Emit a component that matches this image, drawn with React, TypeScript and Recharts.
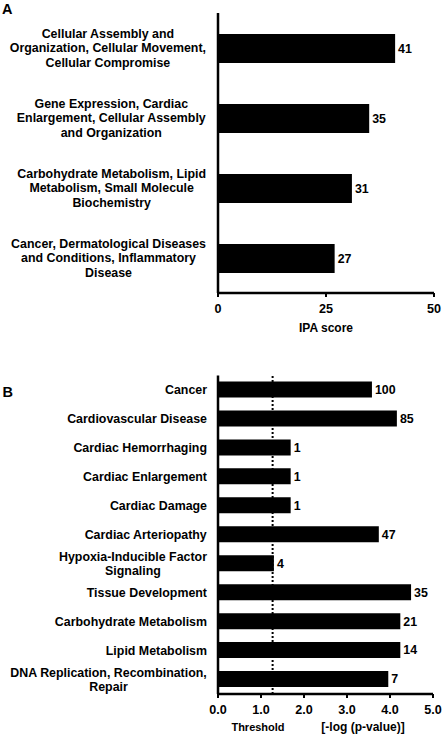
import React from "react";
import {
  BarChart,
  Bar,
  XAxis,
  YAxis,
  LabelList,
  ReferenceLine,
} from "recharts";

// ---------- Data ----------
const panelACategories = [
  "Cellular Assembly and\nOrganization, Cellular Movement,\nCellular Compromise",
  "Gene Expression, Cardiac\nEnlargement, Cellular Assembly\nand Organization",
  "Carbohydrate Metabolism, Lipid\nMetabolism, Small Molecule\nBiochemistry",
  "Cancer, Dermatological Diseases\nand Conditions, Inflammatory\nDisease",
];
const panelAScores = [41, 35, 31, 27];
const panelATicks = [0, 25, 50];

const panelBCategories = [
  "Cancer",
  "Cardiovascular Disease",
  "Cardiac Hemorrhaging",
  "Cardiac Enlargement",
  "Cardiac Damage",
  "Cardiac Arteriopathy",
  "Hypoxia-Inducible Factor\nSignaling",
  "Tissue Development",
  "Carbohydrate Metabolism",
  "Lipid Metabolism",
  "DNA Replication, Recombination,\nRepair",
];
const panelBLogP = [3.58, 4.16, 1.69, 1.69, 1.69, 3.74, 1.3, 4.49, 4.24, 4.24, 3.96];
const panelBCounts = [100, 85, 1, 1, 1, 47, 4, 35, 21, 14, 7];
const panelBTicks = [0, 1, 2, 3, 4, 5];
const thresholdValue = 1.27;

const panelAData = panelACategories.map((name, i) => ({
  name,
  score: panelAScores[i],
}));
const panelBData = panelBCategories.map((name, i) => ({
  name,
  logp: panelBLogP[i],
  count: panelBCounts[i],
}));

// ---------- Styles ----------
const FONT = "'Liberation Sans', Arial, Helvetica, sans-serif";
const LABEL_SIZE = 12.4;
const LINE_H = 14.2;

let ctx: CanvasRenderingContext2D | null = null;
function measure(text: string): number {
  try {
    if (!ctx) {
      const c = document.createElement("canvas");
      ctx = c.getContext("2d");
    }
    if (ctx) {
      ctx.font = `bold ${LABEL_SIZE}px 'Liberation Sans'`;
      return ctx.measureText(text).width;
    }
  } catch (e) {}
  return text.length * 6.9;
}

const MultiLineTick = (props: any) => {
  const { x, y, payload } = props;
  const lines = String(payload.value).split("\n");
  const maxW = Math.max(...lines.map(measure));
  const cx = x - maxW / 2;
  return (
    <g>
      {lines.map((l, i) => (
        <text
          key={i}
          x={cx}
          y={y + (i - (lines.length - 1) / 2) * LINE_H + 4.4}
          textAnchor="middle"
          fill="#000"
          fontSize={LABEL_SIZE}
          fontWeight="bold"
          fontFamily={FONT}
        >
          {l}
        </text>
      ))}
    </g>
  );
};

const valueLabel = (p: any) => (
  <text
    x={p.x + p.width + 3}
    y={p.y + p.height / 2 + 4.4}
    textAnchor="start"
    fill="#000"
    fontSize={LABEL_SIZE}
    fontWeight="bold"
    fontFamily={FONT}
  >
    {p.value}
  </text>
);

const xTickStyle = {
  fill: "#000",
  fontSize: 12.6,
  fontWeight: "bold",
  fontFamily: FONT,
};

const IpaLabel = (p: any) => {
  const vb = p.viewBox;
  return (
    <text
      x={vb.x + vb.width / 2}
      y={vb.y + 39}
      textAnchor="middle"
      fill="#000"
      fontSize={12}
      fontWeight="bold"
      fontFamily={FONT}
    >
      IPA score
    </text>
  );
};

const BLabel = (p: any) => {
  const vb = p.viewBox;
  return (
    <g>
      <text
        x={vb.x + 40}
        y={vb.y + 36.5}
        textAnchor="middle"
        fill="#000"
        fontSize={11}
        fontWeight="bold"
        fontFamily={FONT}
      >
        Threshold
      </text>
      <text
        x={vb.x + 145}
        y={vb.y + 36.5}
        textAnchor="middle"
        fill="#000"
        fontSize={12}
        fontWeight="bold"
        fontFamily={FONT}
      >
        [-log (p-value)]
      </text>
    </g>
  );
};

export default function App() {
  return (
    <div
      style={{
        position: "absolute",
        left: 0,
        top: 0,
        width: 442,
        height: 734,
        background: "#fff",
        overflow: "hidden",
      }}
    >
      <div style={{ position: "absolute", left: 0, top: 0 }}>
        <BarChart
          width={442}
          height={340}
          data={panelAData}
          layout="vertical"
          margin={{ top: 13, right: 8, bottom: 0, left: 0 }}
        >
          <XAxis
            type="number"
            domain={[0, 50]}
            ticks={panelATicks}
            height={47}
            axisLine={{ stroke: "#000", strokeWidth: 2.5 }}
            tickLine={{ stroke: "#000", strokeWidth: 2 }}
            tickSize={4}
            tickMargin={7}
            tick={xTickStyle}
            label={<IpaLabel />}
          />
          <YAxis
            type="category"
            dataKey="name"
            width={218}
            axisLine={{ stroke: "#000", strokeWidth: 2.5 }}
            tickLine={false}
            tickSize={0}
            tickMargin={12}
            interval={0}
            tick={<MultiLineTick />}
          />
          <Bar dataKey="score" fill="#000" barSize={29} isAnimationActive={false}>
            <LabelList dataKey="score" content={valueLabel} />
          </Bar>
        </BarChart>
      </div>

      <div style={{ position: "absolute", left: 0, top: 340 }}>
        <BarChart
          width={442}
          height={394}
          data={panelBData}
          layout="vertical"
          margin={{ top: 35.5, right: 9, bottom: 0, left: 0 }}
        >
          <XAxis
            type="number"
            domain={[0, 5]}
            ticks={panelBTicks}
            height={40}
            axisLine={{ stroke: "#000", strokeWidth: 2.5 }}
            tickLine={{ stroke: "#000", strokeWidth: 2 }}
            tickSize={4}
            tickMargin={7}
            tick={xTickStyle}
            tickFormatter={(v: number) => v.toFixed(1)}
            label={<BLabel />}
          />
          <YAxis
            type="category"
            dataKey="name"
            width={218}
            axisLine={{ stroke: "#000", strokeWidth: 2.5 }}
            tickLine={false}
            tickSize={0}
            tickMargin={11}
            interval={0}
            tick={<MultiLineTick />}
          />
          <ReferenceLine
            x={thresholdValue}
            stroke="#000"
            strokeWidth={2}
            strokeDasharray="2 2"
          />
          <Bar dataKey="logp" fill="#000" barSize={16} isAnimationActive={false}>
            <LabelList dataKey="count" content={valueLabel} />
          </Bar>
        </BarChart>
      </div>

      <svg
        width={442}
        height={734}
        style={{ position: "absolute", left: 0, top: 0, pointerEvents: "none" }}
      >
        <text x={2} y={13.5} fontSize={14.5} fontWeight="bold" fontFamily={FONT} fill="#000">
          A
        </text>
        <text x={2.5} y={397} fontSize={14.5} fontWeight="bold" fontFamily={FONT} fill="#000">
          B
        </text>
      </svg>
    </div>
  );
}
